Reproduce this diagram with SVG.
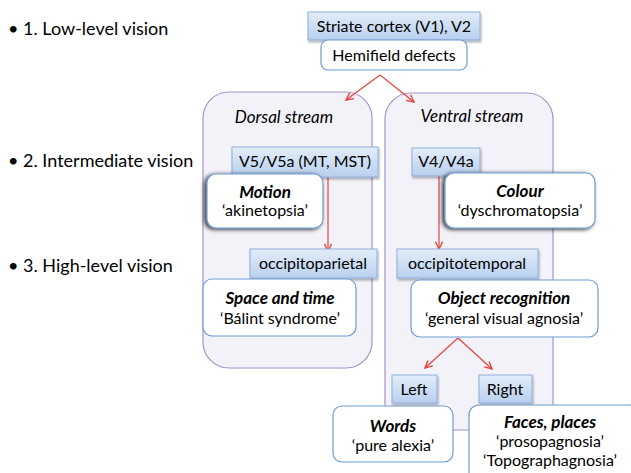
<svg xmlns="http://www.w3.org/2000/svg" width="631" height="473" viewBox="0 0 631 473">
<defs>
<linearGradient id="bg" x1="0" y1="0" x2="0" y2="1">
<stop offset="0" stop-color="#e3edf9"/>
<stop offset="1" stop-color="#b8d0ee"/>
</linearGradient>
<filter id="sh" x="-10%" y="-20%" width="130%" height="150%">
<feDropShadow dx="1" dy="2" stdDeviation="1.2" flood-color="#000" flood-opacity="0.3"/>
</filter>
<filter id="dk" x="-10%" y="-20%" width="130%" height="150%">
<feDropShadow dx="-2" dy="1" stdDeviation="2.2" flood-color="#000" flood-opacity="0.85"/>
</filter>
<marker id="ah" viewBox="0 0 10 10" refX="9" refY="5" markerWidth="9" markerHeight="9" orient="auto" markerUnits="userSpaceOnUse">
<path d="M1,1 L9,5 L1,9" fill="none" stroke="#e8433a" stroke-width="1.5"/>
</marker>
</defs>
<style>
text{font-family:Lato,"Open Sans","Liberation Sans",sans-serif;fill:#000;}
.bul{font-size:18px;}
.t{font-size:16px;text-anchor:middle;}
.h{font-size:17px;text-anchor:middle;font-style:italic;}
.b{font-size:17px;text-anchor:middle;font-style:italic;font-weight:bold;}
.blue{fill:url(#bg);stroke:#8eaedb;stroke-width:1;filter:url(#sh);}
.white{fill:#fff;stroke:#6f9bd6;stroke-width:1.2;}
.cont{fill:#f4f2f9;stroke:#a592cc;stroke-width:1.2;}
.arr{stroke:#e8433a;stroke-width:1.2;fill:none;marker-end:url(#ah);}
</style>
<rect width="631" height="473" fill="#fff"/>
<g id="levels">
<text class="bul" x="8" y="35">• 1. Low-level vision</text>
<text class="bul" x="8" y="167">• 2. Intermediate vision</text>
<text class="bul" x="8" y="272">• 3. High-level vision</text>
</g>
<g id="dorsal">
<rect class="cont" x="203" y="92" width="169" height="276" rx="26"/>
<text class="h" x="284" y="123">Dorsal stream</text>
</g>
<g id="ventral">
<rect class="cont" x="385" y="93" width="168" height="337" rx="26"/>
<text class="h" x="472" y="122">Ventral stream</text>
</g>
<g id="connectors">
<path class="arr" d="M380,75 L346,100"/>
<path class="arr" d="M380,75 L414,102"/>
<path class="arr" d="M328,177 L328,251"/>
<path class="arr" d="M439,176 L439,249"/>
<path class="arr" d="M458,338 L425,368"/>
<path class="arr" d="M458,338 L492,369"/>
</g>
<g id="striate">
<rect class="blue" x="308" y="12" width="172" height="28"/>
<text class="t" x="394" y="32">Striate cortex (V1), V2</text>
</g>
<g id="hemifield">
<rect class="white" x="321" y="40" width="146" height="30" rx="7"/>
<text class="t" x="394" y="61">Hemifield defects</text>
</g>
<g id="v5">
<rect class="blue" x="232" y="147" width="146" height="30"/>
<text class="t" x="305" y="167">V5/V5a (MT, MST)</text>
</g>
<g id="motion">
<rect class="white" x="207" y="174" width="116" height="54" rx="9" filter="url(#dk)"/>
<text class="b" x="265" y="198">Motion</text>
<text class="t" x="265" y="216">‘akinetopsia’</text>
</g>
<g id="occipitoparietal">
<rect class="blue" x="250" y="249" width="127" height="29"/>
<text class="t" x="313" y="269">occipitoparietal</text>
</g>
<g id="space">
<rect class="white" x="203" y="279" width="153" height="57" rx="9"/>
<text class="b" x="280" y="304">Space and time</text>
<text class="t" x="280" y="324">‘Bálint syndrome’</text>
</g>
<g id="v4">
<rect class="blue" x="412" y="148" width="68" height="28"/>
<text class="t" x="446" y="167">V4/V4a</text>
</g>
<g id="colour">
<rect class="white" x="445" y="173" width="150" height="55" rx="9" filter="url(#dk)"/>
<text class="b" x="520" y="197">Colour</text>
<text class="t" x="520" y="216">‘dyschromatopsia’</text>
</g>
<g id="occipitotemporal">
<rect class="blue" x="397" y="249" width="141" height="29"/>
<text class="t" x="467" y="269">occipitotemporal</text>
</g>
<g id="object">
<rect class="white" x="411" y="280" width="187" height="57" rx="9"/>
<text class="b" x="504" y="304">Object recognition</text>
<text class="t" x="504" y="324">‘general visual agnosia’</text>
</g>
<g id="left">
<rect class="blue" x="392" y="375" width="45" height="28"/>
<text class="t" x="414" y="395">Left</text>
</g>
<g id="right">
<rect class="blue" x="479" y="375" width="53" height="28"/>
<text class="t" x="505" y="395">Right</text>
</g>
<g id="words">
<rect class="white" x="333" y="406" width="120" height="56" rx="9"/>
<text class="b" x="393" y="432">Words</text>
<text class="t" x="393" y="451">‘pure alexia’</text>
</g>
<g id="faces">
<rect class="white" x="469" y="405" width="170" height="80" rx="10"/>
<text class="b" x="550" y="428">Faces, places</text>
<text class="t" x="550" y="447">‘prosopagnosia’</text>
<text class="t" x="550" y="466">‘Topographagnosia’</text>
</g>
</svg>
